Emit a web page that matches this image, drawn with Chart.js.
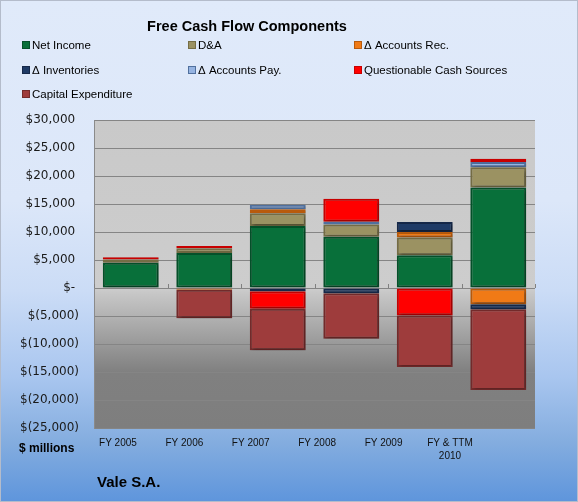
<!DOCTYPE html>
<html>
<head>
<meta charset="utf-8">
<script src="https://cdn.jsdelivr.net/npm/chart.js@4/dist/chart.umd.min.js"></script>
<style>
  html, body { margin: 0; padding: 0; }
  #wrap {
    position: relative; width: 578px; height: 502px; overflow: hidden;
    background: linear-gradient(to bottom, #e0eafa 0%, #dce7f9 40%, #cbdcf6 58%, #a9c6ef 75%, #84addf 88%, #5e95dc 100%);
  }
  #frame { position: absolute; left: 0; top: 0; width: 578px; height: 502px; box-sizing: border-box;
    border: 1px solid #b4bccb; pointer-events: none; }
  canvas { position: absolute; left: 0; top: 0; }
</style>
</head>
<body>
<div id="wrap">
  <canvas id="c" width="578" height="502"></canvas>
  <div id="frame"></div>
</div>
<script>
// ---- data (values in $ millions) ----
const categories = ["FY 2005", "FY 2006", "FY 2007", "FY 2008", "FY 2009", ["FY & TTM", "2010"]];
const netIncome    = [4500, 6250, 11050, 9150, 5850, 17950];
const depreciation = [600, 850, 2300, 2200, 3150, 3600];
const accountsRec  = [null, -300, 700, null, 1000, -2900];
const inventories  = [null, null, -600, -950, 1800, -900];
const accountsPay  = [null, null, 800, 500, null, 950];
const questionable = [400, 420, -3100, 4100, -4900, 600];
const capex        = [null, -5100, -7400, -8100, -9200, -14400];
const yTicks = [30000, 25000, 20000, 15000, 10000, 5000, 0, -5000, -10000, -15000, -20000, -25000];

const seriesNames = ["Net Income", "D&A", "\u0394 Accounts Rec.", "\u0394 Inventories",
                     "\u0394 Accounts Pay.", "Questionable Cash Sources", "Capital Expenditure"];
const seriesData = [netIncome, depreciation, accountsRec, inventories, accountsPay, questionable, capex];
const fills   = ["#08703a", "#9b9262", "#f07a16", "#1f3b66", "#96b4e2", "#ff0000", "#9e3c3c"];
const borders = ["#05512a", "#756d45", "#b85a0c", "#16294a", "#50709e", "#c80000", "#742b2b"];

const LABEL_MIN = -0.361, LABEL_MAX = 6.281;

function fmt(v) {
  if (v === 0) return "$- ";
  const s = Math.abs(v).toLocaleString("en-US");
  return v < 0 ? "$(" + s + ")" : "$" + s + " ";
}

const bgPlugin = {
  id: "plotBg",
  beforeDraw(chart) {
    const { ctx, chartArea: a, scales } = chart;
    const y0 = scales.y.getPixelForValue(0);
    const h = a.bottom - a.top;
    const g = ctx.createLinearGradient(0, a.top, 0, a.bottom);
    const z = (y0 - a.top) / h;
    g.addColorStop(0, "#c9c9c9");
    g.addColorStop(z, "#cdcdcd");
    g.addColorStop(Math.min(1, z + 0.02), "#c6c6c6");
    g.addColorStop(Math.min(1, (scales.y.getPixelForValue(-15000) - a.top) / h), "#808080");
    g.addColorStop(1, "#7e7e7e");
    ctx.save();
    ctx.fillStyle = g;
    ctx.fillRect(a.left, a.top, a.right - a.left, h);
    ctx.restore();
  },
  beforeDatasetsDraw(chart) {
    const { ctx, scales } = chart;
    const xs = scales.x, y0 = scales.y.getPixelForValue(0);
    const step = xs.getPixelForValue(1) - xs.getPixelForValue(0);
    ctx.save();
    ctx.strokeStyle = "#808080";
    ctx.lineWidth = 1;
    for (let i = 0; i <= categories.length; i++) {
      const x = Math.round(xs.getPixelForValue(0) - step / 2 + i * step) + 0.5;
      ctx.beginPath(); ctx.moveTo(x, y0 - 4); ctx.lineTo(x, y0); ctx.stroke();
    }
    ctx.restore();
    ctx.save();
    ctx.shadowColor = "rgba(0,0,0,0.35)";
    ctx.shadowBlur = 3;
    ctx.shadowOffsetX = 1.5;
    ctx.shadowOffsetY = 1.5;
  },
  afterDatasetsDraw(chart) {
    chart.ctx.restore();
  },
  afterDraw(chart) {
    const ctx = chart.ctx;
    ctx.save();
    ctx.fillStyle = "#000";
    ctx.textBaseline = "alphabetic";
    // title
    ctx.font = "bold 14.5px 'Liberation Sans', Arial, sans-serif";
    ctx.textAlign = "center";
    ctx.fillText("Free Cash Flow Components", 247, 31);
    // legend
    ctx.textAlign = "left";
    ctx.font = "11.5px 'Liberation Sans', Arial, sans-serif";
    const colX = [22, 188, 354], rowY = [45, 70, 94];
    chart.data.datasets.forEach((ds, i) => {
      const x = colX[i % 3], y = rowY[Math.floor(i / 3)];
      ctx.fillStyle = ds.backgroundColor;
      ctx.fillRect(x, y - 4, 8, 8);
      ctx.strokeStyle = ds.borderColor;
      ctx.lineWidth = 1;
      ctx.strokeRect(x + 0.5, y - 3.5, 7, 7);
      ctx.fillStyle = "#000";
      ctx.fillText(ds.label, x + 10, y + 4);
    });
    // axis title & footer
    ctx.font = "bold 12px 'Liberation Sans', Arial, sans-serif";
    ctx.fillText("$ millions", 19, 452);
    ctx.font = "bold 15px 'Liberation Sans', Arial, sans-serif";
    ctx.fillText("Vale S.A.", 97, 487);
    ctx.restore();
  }
};

new Chart(document.getElementById("c"), {
  type: "bar",
  data: {
    labels: categories,
    datasets: seriesNames.map((name, i) => ({
      label: name,
      data: seriesData[i],
      backgroundColor: fills[i],
      borderColor: borders[i],
      borderWidth: 2,
      borderSkipped: false,
      xAxisID: "x",
      barPercentage: 0.76,
      categoryPercentage: 1.0
    }))
  },
  options: {
    responsive: false,
    animation: false,
    devicePixelRatio: 1,
    layout: { padding: { top: 120, left: 0, right: 43, bottom: 0 } },
    plugins: { legend: { display: false }, title: { display: false }, tooltip: { enabled: false } },
    scales: {
      x: {
        type: "category", stacked: true, display: false, offset: true
      },
      x2: {
        type: "linear", position: "bottom", min: LABEL_MIN, max: LABEL_MAX, bounds: "data",
        offset: false,
        grid: { display: false, drawTicks: false, offset: false }, border: { display: false },
        afterBuildTicks: s => {
          s.ticks = categories.map((_, i) => ({ value: i }));
          s.min = LABEL_MIN; s.max = LABEL_MAX;
        },
        afterFit: s => { s.height = 74; },
        ticks: {
          padding: 9, maxRotation: 0, autoSkip: false, color: "#111",
          font: { family: "'Liberation Sans', Arial, sans-serif", size: 10, lineHeight: 1.3 },
          callback: v => categories[v]
        }
      },
      y: {
        stacked: true, min: -25000, max: 30000,
        afterBuildTicks: s => { s.ticks = yTicks.map(v => ({ value: v })); },
        afterFit: s => { s.width = 94; },
        grid: { color: "#858585", lineWidth: 1, drawTicks: false },
        border: { display: true, color: "#8a8a8a" },
        ticks: {
          padding: 15, color: "#1a1a1a",
          font: { family: "'DejaVu Sans', Verdana, sans-serif", size: 12 },
          callback: v => fmt(v)
        }
      }
    }
  },
  plugins: [bgPlugin]
});
</script>
</body>
</html>
